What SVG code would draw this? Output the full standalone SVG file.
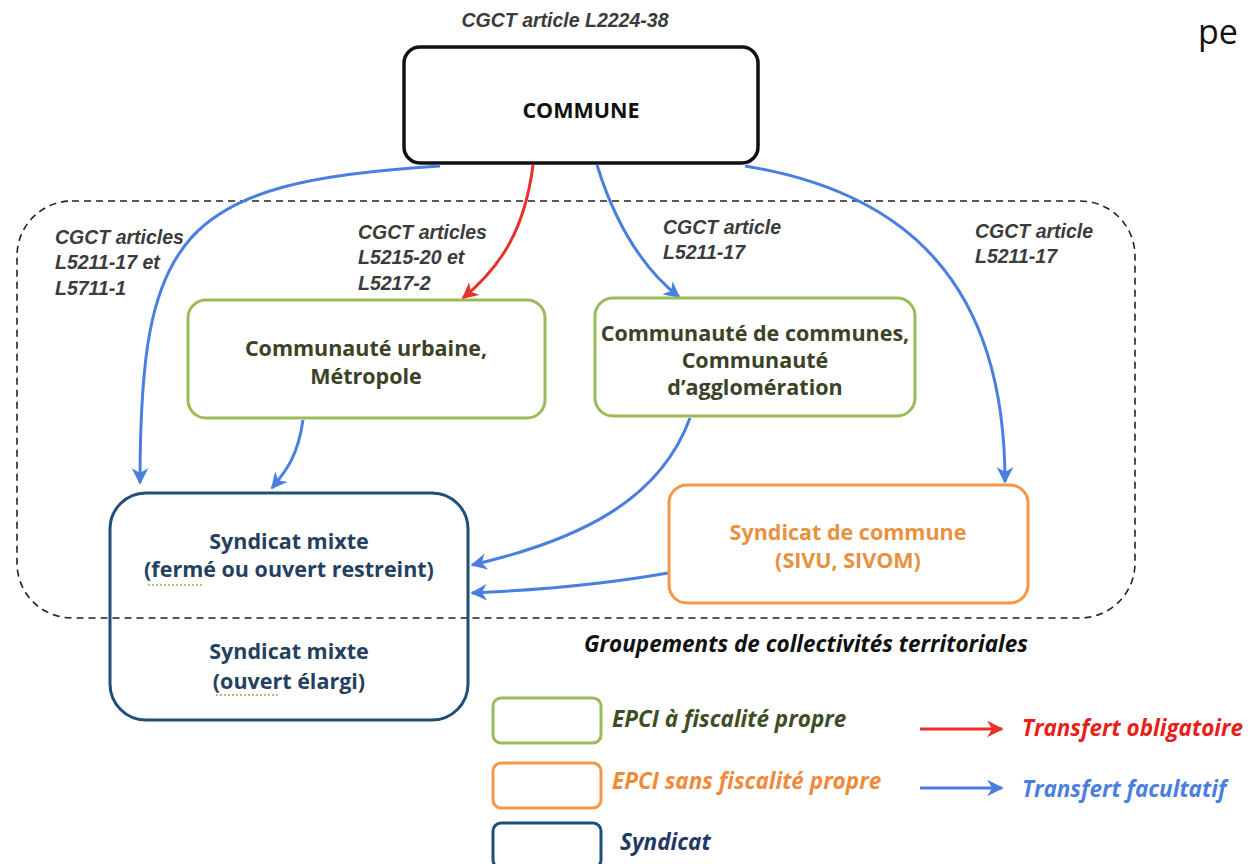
<svg xmlns="http://www.w3.org/2000/svg" width="1248" height="864" viewBox="0 0 1248 864">
<defs>
<style>
.lbl{font-family:"Liberation Sans",Arial,sans-serif;font-weight:bold;font-style:italic;font-size:19.5px;fill:#3b3b3b}
.nt{font-family:"Open Sans","Liberation Sans",sans-serif;font-weight:bold;font-size:21.5px;text-anchor:middle}
.green{fill:none;stroke:#9bbb59;stroke-width:3}
.orange{fill:none;stroke:#f79646;stroke-width:3}
.navy{fill:none;stroke:#1f4e79;stroke-width:3}
.blue{fill:none;stroke:#4a7fe0;stroke-width:3;marker-end:url(#ab)}
.red{fill:none;stroke:#e8312a;stroke-width:3;marker-end:url(#ar)}
.leg{font-family:"Open Sans","Liberation Sans",sans-serif;font-weight:bold;font-style:italic;font-size:22.5px}
</style>
<marker id="ab" viewBox="0 0 10 10" refX="9" refY="5" markerWidth="5.5" markerHeight="5.5" orient="auto" markerUnits="strokeWidth">
<path d="M0,0 L10,5 L0,10 L3,5 z" fill="#4a7fe0"/>
</marker>
<marker id="ar" viewBox="0 0 10 10" refX="9" refY="5" markerWidth="5.5" markerHeight="5.5" orient="auto" markerUnits="strokeWidth">
<path d="M0,0 L10,5 L0,10 L3,5 z" fill="#e8312a"/>
</marker>
</defs>
<rect width="1248" height="864" fill="#ffffff"/>
<text x="1198" y="44" font-family="Open Sans, Liberation Sans, sans-serif" font-size="34" fill="#111">pe</text>
<g id="groupement">
<rect x="17" y="201" width="1118" height="417" rx="55" fill="none" stroke="#222" stroke-width="1.6" stroke-dasharray="7,5"/>
<text x="806" y="652" class="leg" text-anchor="middle" fill="#111">Groupements de collectivités territoriales</text>
</g>
<g id="labels">
<text x="565" y="27" class="lbl" text-anchor="middle">CGCT article L2224-38</text>
<text class="lbl"><tspan x="55" y="244">CGCT articles</tspan><tspan x="55" y="269">L5211-17 et</tspan><tspan x="55" y="295">L5711-1</tspan></text>
<text class="lbl"><tspan x="358" y="239">CGCT articles</tspan><tspan x="358" y="264">L5215-20 et</tspan><tspan x="358" y="290">L5217-2</tspan></text>
<text class="lbl"><tspan x="663" y="234">CGCT article</tspan><tspan x="663" y="259">L5211-17</tspan></text>
<text class="lbl"><tspan x="975" y="238">CGCT article</tspan><tspan x="975" y="263">L5211-17</tspan></text>
</g>
<g id="commune">
<rect x="404" y="47" width="354" height="116" rx="16" fill="#fff" stroke="#111" stroke-width="3.5"/>
<text x="581" y="118" class="nt" fill="#111" font-size="24">COMMUNE</text>
</g>
<g id="connectors">
<path class="blue" d="M440,166 C180,182 140,232 140,483"/>
<path class="red" d="M533,165 C525,228 502,266 463,298"/>
<path class="blue" d="M597,165 C614,220 640,266 679,297"/>
<path class="blue" d="M745,166 C905,192 1005,282 1005,482"/>
<path class="blue" d="M303,420 C298,455 287,470 272,488"/>
<path class="blue" d="M690,418 C660,500 580,540 472,565"/>
<path class="blue" d="M668,573 C600,585 540,590 472,593"/>
</g>
<g id="cu">
<rect x="188" y="300" width="357" height="118" rx="18" class="green" fill="#fff"/>
<text class="nt" fill="#3b4226"><tspan x="366" y="356">Communauté urbaine,</tspan><tspan x="366" y="384">Métropole</tspan></text>
</g>
<g id="cc">
<rect x="595" y="298" width="320" height="118" rx="18" class="green" fill="#fff"/>
<text class="nt" fill="#3b4226"><tspan x="755" y="341">Communauté de communes,</tspan><tspan x="755" y="368">Communauté</tspan><tspan x="755" y="395">d’agglomération</tspan></text>
</g>
<g id="sm">
<rect x="110" y="493" width="358" height="227" rx="36" class="navy"/>
<text class="nt" fill="#243f60"><tspan x="289" y="549">Syndicat mixte</tspan><tspan x="289" y="577">(fermé ou ouvert restreint)</tspan><tspan x="289" y="659">Syndicat mixte</tspan><tspan x="289" y="689">(ouvert élargi)</tspan></text>
<path d="M148,585 h56 M216,695 h62" stroke="#8fb35a" stroke-width="1.5" stroke-dasharray="2,2" fill="none"/>
</g>
<g id="sc">
<rect x="669" y="485" width="359" height="118" rx="18" class="orange" fill="#fff"/>
<text class="nt" fill="#e8913f"><tspan x="848" y="540">Syndicat de commune</tspan><tspan x="848" y="568">(SIVU, SIVOM)</tspan></text>
</g>
<g id="legend">
<rect x="493" y="698" width="108" height="45" rx="8" class="green"/>
<text x="612" y="727" class="leg" fill="#3f4d22">EPCI à fiscalité propre</text>
<rect x="493" y="763" width="108" height="45" rx="8" class="orange"/>
<text x="612" y="789" class="leg" fill="#f08a3a">EPCI sans fiscalité propre</text>
<rect x="493" y="823" width="108" height="45" rx="8" class="navy"/>
<text x="620" y="850" class="leg" fill="#1f3864">Syndicat</text>
<path class="red" d="M920,729 H1002"/>
<text x="1022" y="736" class="leg" fill="#e8201a">Transfert obligatoire</text>
<path class="blue" d="M920,788 H1002"/>
<text x="1022" y="797" class="leg" fill="#4a7fe0">Transfert facultatif</text>
</g>
</svg>
